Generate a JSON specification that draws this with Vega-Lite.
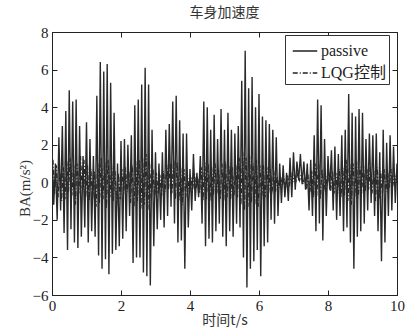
{
"$schema": "https://vega.github.io/schema/vega-lite/v6.json",
"width": 345, "height": 263,
"autosize": {"type": "none"},
"padding": {"left": 52, "top": 32, "right": 12, "bottom": 35},
"background": "white",
"config": {"view": {"stroke": "#222", "strokeWidth": 1}, "font": "Liberation Serif"},
"title": {"text": "车身加速度", "font": "Noto Sans CJK SC", "fontSize": 14, "fontWeight": "normal", "color": "#333", "offset": 5, "anchor": "middle"},
"data": {"values": [
{"t":0.00,"a":1.8,"s":"passive"},{"t":0.05,"a":-1.2,"s":"passive"},{"t":0.10,"a":1.0,"s":"passive"},{"t":0.15,"a":-2.0,"s":"passive"},{"t":0.20,"a":2.4,"s":"passive"},{"t":0.25,"a":-1.5,"s":"passive"},{"t":0.30,"a":3.0,"s":"passive"},{"t":0.35,"a":-2.7,"s":"passive"},{"t":0.40,"a":3.8,"s":"passive"},{"t":0.45,"a":-3.6,"s":"passive"},
{"t":0.50,"a":4.9,"s":"passive"},{"t":0.55,"a":-2.5,"s":"passive"},{"t":0.60,"a":4.3,"s":"passive"},{"t":0.65,"a":-3.2,"s":"passive"},{"t":0.70,"a":4.4,"s":"passive"},{"t":0.75,"a":-3.5,"s":"passive"},{"t":0.80,"a":3.0,"s":"passive"},{"t":0.85,"a":-2.9,"s":"passive"},{"t":0.90,"a":1.4,"s":"passive"},{"t":0.95,"a":-2.4,"s":"passive"},
{"t":1.00,"a":3.2,"s":"passive"},{"t":1.05,"a":-3.2,"s":"passive"},{"t":1.10,"a":2.3,"s":"passive"},{"t":1.15,"a":-2.6,"s":"passive"},{"t":1.20,"a":1.4,"s":"passive"},{"t":1.25,"a":-2.9,"s":"passive"},{"t":1.30,"a":4.6,"s":"passive"},{"t":1.35,"a":-3.9,"s":"passive"},{"t":1.40,"a":6.4,"s":"passive"},{"t":1.45,"a":-4.6,"s":"passive"},
{"t":1.50,"a":5.9,"s":"passive"},{"t":1.55,"a":-4.1,"s":"passive"},{"t":1.60,"a":6.3,"s":"passive"},{"t":1.65,"a":-4.9,"s":"passive"},{"t":1.70,"a":5.3,"s":"passive"},{"t":1.75,"a":-3.8,"s":"passive"},{"t":1.80,"a":3.7,"s":"passive"},{"t":1.85,"a":-3.6,"s":"passive"},{"t":1.90,"a":1.0,"s":"passive"},{"t":1.95,"a":-3.4,"s":"passive"},
{"t":2.00,"a":2.2,"s":"passive"},{"t":2.05,"a":-3.0,"s":"passive"},{"t":2.10,"a":2.3,"s":"passive"},{"t":2.15,"a":-2.6,"s":"passive"},{"t":2.20,"a":2.0,"s":"passive"},{"t":2.25,"a":-1.8,"s":"passive"},{"t":2.30,"a":2.5,"s":"passive"},{"t":2.35,"a":-4.3,"s":"passive"},{"t":2.40,"a":4.1,"s":"passive"},{"t":2.45,"a":-4.0,"s":"passive"},
{"t":2.50,"a":4.4,"s":"passive"},{"t":2.55,"a":-4.0,"s":"passive"},{"t":2.60,"a":5.2,"s":"passive"},{"t":2.65,"a":-4.8,"s":"passive"},{"t":2.70,"a":6.1,"s":"passive"},{"t":2.75,"a":-5.0,"s":"passive"},{"t":2.80,"a":5.2,"s":"passive"},{"t":2.85,"a":-5.5,"s":"passive"},{"t":2.90,"a":2.8,"s":"passive"},{"t":2.95,"a":-3.4,"s":"passive"},
{"t":3.00,"a":1.6,"s":"passive"},{"t":3.05,"a":-2.5,"s":"passive"},{"t":3.10,"a":1.0,"s":"passive"},{"t":3.15,"a":-2.0,"s":"passive"},{"t":3.20,"a":1.6,"s":"passive"},{"t":3.25,"a":-2.4,"s":"passive"},{"t":3.30,"a":2.8,"s":"passive"},{"t":3.35,"a":-1.8,"s":"passive"},{"t":3.40,"a":3.1,"s":"passive"},{"t":3.45,"a":-1.3,"s":"passive"},
{"t":3.50,"a":4.3,"s":"passive"},{"t":3.55,"a":-2.2,"s":"passive"},{"t":3.60,"a":4.6,"s":"passive"},{"t":3.65,"a":-3.2,"s":"passive"},{"t":3.70,"a":3.3,"s":"passive"},{"t":3.75,"a":-3.1,"s":"passive"},{"t":3.80,"a":2.6,"s":"passive"},{"t":3.85,"a":-4.6,"s":"passive"},{"t":3.90,"a":2.6,"s":"passive"},{"t":3.95,"a":-2.4,"s":"passive"},
{"t":4.00,"a":0.7,"s":"passive"},{"t":4.05,"a":-1.5,"s":"passive"},{"t":4.10,"a":1.5,"s":"passive"},{"t":4.15,"a":-1.0,"s":"passive"},{"t":4.20,"a":0.5,"s":"passive"},{"t":4.25,"a":-0.8,"s":"passive"},{"t":4.30,"a":1.4,"s":"passive"},{"t":4.35,"a":-2.2,"s":"passive"},{"t":4.40,"a":4.3,"s":"passive"},{"t":4.45,"a":-3.4,"s":"passive"},
{"t":4.50,"a":4.0,"s":"passive"},{"t":4.55,"a":-3.0,"s":"passive"},{"t":4.60,"a":2.8,"s":"passive"},{"t":4.65,"a":-3.2,"s":"passive"},{"t":4.70,"a":3.6,"s":"passive"},{"t":4.75,"a":-2.6,"s":"passive"},{"t":4.80,"a":2.3,"s":"passive"},{"t":4.85,"a":-2.2,"s":"passive"},{"t":4.90,"a":3.9,"s":"passive"},{"t":4.95,"a":-2.9,"s":"passive"},
{"t":5.00,"a":2.8,"s":"passive"},{"t":5.05,"a":-3.4,"s":"passive"},{"t":5.10,"a":3.7,"s":"passive"},{"t":5.15,"a":-2.6,"s":"passive"},{"t":5.20,"a":2.8,"s":"passive"},{"t":5.25,"a":-2.9,"s":"passive"},{"t":5.30,"a":2.6,"s":"passive"},{"t":5.35,"a":-2.2,"s":"passive"},{"t":5.40,"a":3.0,"s":"passive"},{"t":5.45,"a":-2.4,"s":"passive"},
{"t":5.50,"a":5.4,"s":"passive"},{"t":5.55,"a":-4.0,"s":"passive"},{"t":5.60,"a":7.0,"s":"passive"},{"t":5.65,"a":-5.6,"s":"passive"},{"t":5.70,"a":5.0,"s":"passive"},{"t":5.75,"a":-4.6,"s":"passive"},{"t":5.80,"a":5.6,"s":"passive"},{"t":5.85,"a":-4.2,"s":"passive"},{"t":5.90,"a":4.0,"s":"passive"},{"t":5.95,"a":-3.6,"s":"passive"},
{"t":6.00,"a":4.7,"s":"passive"},{"t":6.05,"a":-5.0,"s":"passive"},{"t":6.10,"a":3.5,"s":"passive"},{"t":6.15,"a":-3.4,"s":"passive"},{"t":6.20,"a":3.3,"s":"passive"},{"t":6.25,"a":-3.2,"s":"passive"},{"t":6.30,"a":3.1,"s":"passive"},{"t":6.35,"a":-2.0,"s":"passive"},{"t":6.40,"a":2.8,"s":"passive"},{"t":6.45,"a":-2.2,"s":"passive"},
{"t":6.50,"a":2.4,"s":"passive"},{"t":6.55,"a":-1.8,"s":"passive"},{"t":6.60,"a":1.0,"s":"passive"},{"t":6.65,"a":-1.1,"s":"passive"},{"t":6.70,"a":0.9,"s":"passive"},{"t":6.75,"a":-0.8,"s":"passive"},{"t":6.80,"a":0.5,"s":"passive"},{"t":6.85,"a":-1.0,"s":"passive"},{"t":6.90,"a":1.3,"s":"passive"},{"t":6.95,"a":-0.8,"s":"passive"},
{"t":7.00,"a":1.6,"s":"passive"},{"t":7.05,"a":-0.4,"s":"passive"},{"t":7.10,"a":1.1,"s":"passive"},{"t":7.15,"a":0.1,"s":"passive"},{"t":7.20,"a":1.5,"s":"passive"},{"t":7.25,"a":-0.1,"s":"passive"},{"t":7.30,"a":1.1,"s":"passive"},{"t":7.35,"a":-0.4,"s":"passive"},{"t":7.40,"a":1.0,"s":"passive"},{"t":7.45,"a":-1.5,"s":"passive"},
{"t":7.50,"a":1.2,"s":"passive"},{"t":7.55,"a":-1.8,"s":"passive"},{"t":7.60,"a":2.5,"s":"passive"},{"t":7.65,"a":-2.6,"s":"passive"},{"t":7.70,"a":4.4,"s":"passive"},{"t":7.75,"a":-2.2,"s":"passive"},{"t":7.80,"a":4.1,"s":"passive"},{"t":7.85,"a":-3.1,"s":"passive"},{"t":7.90,"a":2.3,"s":"passive"},{"t":7.95,"a":-1.8,"s":"passive"},
{"t":8.00,"a":1.4,"s":"passive"},{"t":8.05,"a":-0.4,"s":"passive"},{"t":8.10,"a":1.7,"s":"passive"},{"t":8.15,"a":-1.5,"s":"passive"},{"t":8.20,"a":1.9,"s":"passive"},{"t":8.25,"a":-2.0,"s":"passive"},{"t":8.30,"a":1.5,"s":"passive"},{"t":8.35,"a":-1.8,"s":"passive"},{"t":8.40,"a":2.5,"s":"passive"},{"t":8.45,"a":-2.6,"s":"passive"},
{"t":8.50,"a":2.8,"s":"passive"},{"t":8.55,"a":-2.4,"s":"passive"},{"t":8.60,"a":4.7,"s":"passive"},{"t":8.65,"a":-3.2,"s":"passive"},{"t":8.70,"a":3.7,"s":"passive"},{"t":8.75,"a":-4.6,"s":"passive"},{"t":8.80,"a":3.5,"s":"passive"},{"t":8.85,"a":-2.9,"s":"passive"},{"t":8.90,"a":3.9,"s":"passive"},{"t":8.95,"a":-2.6,"s":"passive"},
{"t":9.00,"a":3.7,"s":"passive"},{"t":9.05,"a":-2.2,"s":"passive"},{"t":9.10,"a":2.3,"s":"passive"},{"t":9.15,"a":-1.5,"s":"passive"},{"t":9.20,"a":2.6,"s":"passive"},{"t":9.25,"a":-1.1,"s":"passive"},{"t":9.30,"a":2.5,"s":"passive"},{"t":9.35,"a":-1.8,"s":"passive"},{"t":9.40,"a":2.6,"s":"passive"},{"t":9.45,"a":-2.6,"s":"passive"},
{"t":9.50,"a":1.6,"s":"passive"},{"t":9.55,"a":-4.2,"s":"passive"},{"t":9.60,"a":2.8,"s":"passive"},{"t":9.65,"a":-3.2,"s":"passive"},{"t":9.70,"a":2.1,"s":"passive"},{"t":9.75,"a":-1.8,"s":"passive"},{"t":9.80,"a":2.5,"s":"passive"},{"t":9.85,"a":-1.5,"s":"passive"},{"t":9.90,"a":1.9,"s":"passive"},{"t":9.95,"a":-1.1,"s":"passive"},
{"t":10.00,"a":1.0,"s":"passive"},
{"t":0.025,"a":1.2,"s":"LQG控制"},{"t":0.075,"a":-0.6,"s":"LQG控制"},{"t":0.125,"a":0.9,"s":"LQG控制"},{"t":0.175,"a":-0.8,"s":"LQG控制"},{"t":0.225,"a":0.5,"s":"LQG控制"},{"t":0.275,"a":-1.0,"s":"LQG控制"},{"t":0.325,"a":0.8,"s":"LQG控制"},{"t":0.375,"a":-0.9,"s":"LQG控制"},{"t":0.425,"a":1.1,"s":"LQG控制"},{"t":0.475,"a":-0.5,"s":"LQG控制"},
{"t":0.525,"a":1.3,"s":"LQG控制"},{"t":0.575,"a":-0.7,"s":"LQG控制"},{"t":0.625,"a":0.9,"s":"LQG控制"},{"t":0.675,"a":-1.2,"s":"LQG控制"},{"t":0.725,"a":1.0,"s":"LQG控制"},{"t":0.775,"a":-0.6,"s":"LQG控制"},{"t":0.825,"a":1.4,"s":"LQG控制"},{"t":0.875,"a":-0.3,"s":"LQG控制"},{"t":0.925,"a":1.2,"s":"LQG控制"},{"t":0.975,"a":-0.8,"s":"LQG控制"},
{"t":1.025,"a":0.9,"s":"LQG控制"},{"t":1.075,"a":-1.0,"s":"LQG控制"},{"t":1.125,"a":0.7,"s":"LQG控制"},{"t":1.175,"a":-0.9,"s":"LQG控制"},{"t":1.225,"a":0.6,"s":"LQG控制"},{"t":1.275,"a":-1.3,"s":"LQG控制"},{"t":1.325,"a":1.0,"s":"LQG控制"},{"t":1.375,"a":-1.1,"s":"LQG控制"},{"t":1.425,"a":1.3,"s":"LQG控制"},{"t":1.475,"a":-0.9,"s":"LQG控制"},
{"t":1.525,"a":1.1,"s":"LQG控制"},{"t":1.575,"a":-1.4,"s":"LQG控制"},{"t":1.625,"a":1.2,"s":"LQG控制"},{"t":1.675,"a":-0.8,"s":"LQG控制"},{"t":1.725,"a":0.9,"s":"LQG控制"},{"t":1.775,"a":-1.0,"s":"LQG控制"},{"t":1.825,"a":0.6,"s":"LQG控制"},{"t":1.875,"a":-1.2,"s":"LQG控制"},{"t":1.925,"a":0.5,"s":"LQG控制"},{"t":1.975,"a":-0.9,"s":"LQG控制"},
{"t":2.025,"a":0.7,"s":"LQG控制"},{"t":2.075,"a":-0.6,"s":"LQG控制"},{"t":2.125,"a":0.8,"s":"LQG控制"},{"t":2.175,"a":-0.5,"s":"LQG控制"},{"t":2.225,"a":0.6,"s":"LQG控制"},{"t":2.275,"a":-1.1,"s":"LQG控制"},{"t":2.325,"a":0.9,"s":"LQG控制"},{"t":2.375,"a":-1.3,"s":"LQG控制"},{"t":2.425,"a":1.1,"s":"LQG控制"},{"t":2.475,"a":-1.0,"s":"LQG控制"},
{"t":2.525,"a":1.2,"s":"LQG控制"},{"t":2.575,"a":-1.4,"s":"LQG控制"},{"t":2.625,"a":1.3,"s":"LQG控制"},{"t":2.675,"a":-1.2,"s":"LQG控制"},{"t":2.725,"a":1.5,"s":"LQG控制"},{"t":2.775,"a":-1.5,"s":"LQG控制"},{"t":2.825,"a":1.1,"s":"LQG控制"},{"t":2.875,"a":-1.0,"s":"LQG控制"},{"t":2.925,"a":0.7,"s":"LQG控制"},{"t":2.975,"a":-0.8,"s":"LQG控制"},
{"t":3.025,"a":0.5,"s":"LQG控制"},{"t":3.075,"a":-0.6,"s":"LQG控制"},{"t":3.125,"a":0.4,"s":"LQG控制"},{"t":3.175,"a":-0.7,"s":"LQG控制"},{"t":3.225,"a":0.6,"s":"LQG控制"},{"t":3.275,"a":-0.5,"s":"LQG控制"},{"t":3.325,"a":0.9,"s":"LQG控制"},{"t":3.375,"a":-0.4,"s":"LQG控制"},{"t":3.425,"a":1.0,"s":"LQG控制"},{"t":3.475,"a":-0.6,"s":"LQG控制"},
{"t":3.525,"a":1.2,"s":"LQG控制"},{"t":3.575,"a":-0.9,"s":"LQG控制"},{"t":3.625,"a":1.1,"s":"LQG控制"},{"t":3.675,"a":-1.0,"s":"LQG控制"},{"t":3.725,"a":0.8,"s":"LQG控制"},{"t":3.775,"a":-1.2,"s":"LQG控制"},{"t":3.825,"a":0.7,"s":"LQG控制"},{"t":3.875,"a":-0.8,"s":"LQG控制"},{"t":3.925,"a":0.4,"s":"LQG控制"},{"t":3.975,"a":-0.5,"s":"LQG控制"},
{"t":4.025,"a":0.3,"s":"LQG控制"},{"t":4.075,"a":-0.4,"s":"LQG控制"},{"t":4.125,"a":0.5,"s":"LQG控制"},{"t":4.175,"a":-0.3,"s":"LQG控制"},{"t":4.225,"a":0.2,"s":"LQG控制"},{"t":4.275,"a":-0.6,"s":"LQG控制"},{"t":4.325,"a":0.8,"s":"LQG控制"},{"t":4.375,"a":-1.0,"s":"LQG控制"},{"t":4.425,"a":1.1,"s":"LQG控制"},{"t":4.475,"a":-0.9,"s":"LQG控制"},
{"t":4.525,"a":1.0,"s":"LQG控制"},{"t":4.575,"a":-1.0,"s":"LQG控制"},{"t":4.625,"a":0.8,"s":"LQG控制"},{"t":4.675,"a":-0.7,"s":"LQG控制"},{"t":4.725,"a":1.0,"s":"LQG控制"},{"t":4.775,"a":-0.6,"s":"LQG控制"},{"t":4.825,"a":0.7,"s":"LQG控制"},{"t":4.875,"a":-0.9,"s":"LQG控制"},{"t":4.925,"a":1.0,"s":"LQG控制"},{"t":4.975,"a":-1.0,"s":"LQG控制"},
{"t":5.025,"a":1.1,"s":"LQG控制"},{"t":5.075,"a":-0.8,"s":"LQG控制"},{"t":5.125,"a":0.9,"s":"LQG控制"},{"t":5.175,"a":-0.9,"s":"LQG控制"},{"t":5.225,"a":0.8,"s":"LQG控制"},{"t":5.275,"a":-0.7,"s":"LQG控制"},{"t":5.325,"a":0.9,"s":"LQG控制"},{"t":5.375,"a":-0.8,"s":"LQG控制"},{"t":5.425,"a":1.3,"s":"LQG控制"},{"t":5.475,"a":-1.2,"s":"LQG控制"},
{"t":5.525,"a":1.6,"s":"LQG控制"},{"t":5.575,"a":-1.5,"s":"LQG控制"},{"t":5.625,"a":1.3,"s":"LQG控制"},{"t":5.675,"a":-1.3,"s":"LQG控制"},{"t":5.725,"a":1.4,"s":"LQG控制"},{"t":5.775,"a":-1.1,"s":"LQG控制"},{"t":5.825,"a":1.0,"s":"LQG控制"},{"t":5.875,"a":-1.2,"s":"LQG控制"},{"t":5.925,"a":1.2,"s":"LQG控制"},{"t":5.975,"a":-1.3,"s":"LQG控制"},
{"t":6.025,"a":0.9,"s":"LQG控制"},{"t":6.075,"a":-0.9,"s":"LQG控制"},{"t":6.125,"a":0.9,"s":"LQG控制"},{"t":6.175,"a":-0.8,"s":"LQG控制"},{"t":6.225,"a":0.8,"s":"LQG控制"},{"t":6.275,"a":-0.6,"s":"LQG控制"},{"t":6.325,"a":0.7,"s":"LQG控制"},{"t":6.375,"a":-0.6,"s":"LQG控制"},{"t":6.425,"a":0.6,"s":"LQG控制"},{"t":6.475,"a":-0.5,"s":"LQG控制"},
{"t":6.525,"a":0.3,"s":"LQG控制"},{"t":6.575,"a":-0.3,"s":"LQG控制"},{"t":6.625,"a":0.3,"s":"LQG控制"},{"t":6.675,"a":-0.2,"s":"LQG控制"},{"t":6.725,"a":0.2,"s":"LQG控制"},{"t":6.775,"a":-0.3,"s":"LQG控制"},{"t":6.825,"a":0.4,"s":"LQG控制"},{"t":6.875,"a":-0.2,"s":"LQG控制"},{"t":6.925,"a":0.5,"s":"LQG控制"},{"t":6.975,"a":0.0,"s":"LQG控制"},
{"t":7.025,"a":0.4,"s":"LQG控制"},{"t":7.075,"a":0.1,"s":"LQG控制"},{"t":7.125,"a":0.5,"s":"LQG控制"},{"t":7.175,"a":0.1,"s":"LQG控制"},{"t":7.225,"a":0.4,"s":"LQG控制"},{"t":7.275,"a":-0.1,"s":"LQG控制"},{"t":7.325,"a":0.3,"s":"LQG控制"},{"t":7.375,"a":-0.4,"s":"LQG控制"},{"t":7.425,"a":0.4,"s":"LQG控制"},{"t":7.475,"a":-0.5,"s":"LQG控制"},
{"t":7.525,"a":0.6,"s":"LQG控制"},{"t":7.575,"a":-0.8,"s":"LQG控制"},{"t":7.625,"a":1.0,"s":"LQG控制"},{"t":7.675,"a":-0.7,"s":"LQG控制"},{"t":7.725,"a":1.1,"s":"LQG控制"},{"t":7.775,"a":-0.9,"s":"LQG控制"},{"t":7.825,"a":0.7,"s":"LQG控制"},{"t":7.875,"a":-0.5,"s":"LQG控制"},{"t":7.925,"a":0.4,"s":"LQG控制"},{"t":7.975,"a":-0.2,"s":"LQG控制"},
{"t":8.025,"a":0.5,"s":"LQG控制"},{"t":8.075,"a":-0.5,"s":"LQG控制"},{"t":8.125,"a":0.6,"s":"LQG控制"},{"t":8.175,"a":-0.6,"s":"LQG控制"},{"t":8.225,"a":0.5,"s":"LQG控制"},{"t":8.275,"a":-0.6,"s":"LQG控制"},{"t":8.325,"a":0.7,"s":"LQG控制"},{"t":8.375,"a":-0.8,"s":"LQG控制"},{"t":8.425,"a":0.8,"s":"LQG控制"},{"t":8.475,"a":-0.7,"s":"LQG控制"},
{"t":8.525,"a":1.2,"s":"LQG控制"},{"t":8.575,"a":-1.0,"s":"LQG控制"},{"t":8.625,"a":1.0,"s":"LQG控制"},{"t":8.675,"a":-1.2,"s":"LQG控制"},{"t":8.725,"a":1.0,"s":"LQG控制"},{"t":8.775,"a":-0.8,"s":"LQG控制"},{"t":8.825,"a":1.1,"s":"LQG控制"},{"t":8.875,"a":-0.8,"s":"LQG控制"},{"t":8.925,"a":0.8,"s":"LQG控制"},{"t":8.975,"a":-0.6,"s":"LQG控制"},
{"t":9.025,"a":0.9,"s":"LQG控制"},{"t":9.075,"a":-0.5,"s":"LQG控制"},{"t":9.125,"a":0.7,"s":"LQG控制"},{"t":9.175,"a":-0.4,"s":"LQG控制"},{"t":9.225,"a":0.8,"s":"LQG控制"},{"t":9.275,"a":-0.6,"s":"LQG控制"},{"t":9.325,"a":0.6,"s":"LQG控制"},{"t":9.375,"a":-1.0,"s":"LQG控制"},{"t":9.425,"a":0.8,"s":"LQG控制"},{"t":9.475,"a":-0.9,"s":"LQG控制"},
{"t":9.525,"a":0.6,"s":"LQG控制"},{"t":9.575,"a":-0.6,"s":"LQG控制"},{"t":9.625,"a":0.7,"s":"LQG控制"},{"t":9.675,"a":-0.5,"s":"LQG控制"},{"t":9.725,"a":0.6,"s":"LQG控制"},{"t":9.775,"a":-0.3,"s":"LQG控制"},{"t":9.825,"a":0.7,"s":"LQG控制"},{"t":9.875,"a":-0.2,"s":"LQG控制"},{"t":9.925,"a":0.5,"s":"LQG控制"},{"t":9.975,"a":0.1,"s":"LQG控制"}
]},
"layer": [
{"mark": {"type": "line", "strokeWidth": 1.4, "color": "#2a2a2a", "clip": true},
 "encoding": {
  "x": {"field": "t", "type": "quantitative", "scale": {"domain": [0, 10], "nice": false},
        "axis": {"values": [0,2,4,6,8,10], "title": "时间t/s", "titleFont": "Noto Sans CJK SC", "titleFontSize": 14, "titleFontWeight": "normal", "titleColor": "#333", "titlePadding": 0,
                 "labelFont": "Liberation Serif", "labelFontSize": 15, "labelColor": "#222", "labelPadding": 8, "tickSize": -5, "tickColor": "#222", "domainColor": "#222", "grid": false, "labelFlush": false}},
  "y": {"field": "a", "type": "quantitative", "scale": {"domain": [-6, 8], "nice": false},
        "axis": {"values": [-6,-4,-2,0,2,4,6,8], "title": "BA(m/s²)", "titleFont": "Liberation Serif", "titleFontSize": 15, "titleFontWeight": "normal", "titleColor": "#333", "titleX": -20, "titleY": 156, "titleAngle": 270, "titleAlign": "center", "titleBaseline": "bottom",
                 "labelFont": "Liberation Serif", "labelFontSize": 15, "labelColor": "#222", "labelPadding": 9, "tickSize": -5, "tickColor": "#222", "domainColor": "#222", "grid": false, "labelFlush": false}},
  "strokeDash": {"field": "s", "type": "nominal", "scale": {"domain": ["passive", "LQG控制"], "range": [[1, 0], [5, 2, 1, 2]]},
        "legend": {"orient": "none", "legendX": 233, "legendY": 3, "title": null, "fillColor": "white", "strokeColor": "#333", "padding": 3, "symbolType": "stroke", "symbolSize": 600, "symbolStrokeWidth": 1.3, "symbolStrokeColor": "#222", "symbolOffset": 4, "labelFont": "Liberation Serif, Noto Sans CJK SC", "labelFontSize": 16, "labelColor": "#222", "labelOffset": 3, "rowPadding": 1}}
 }},
{"mark": {"type": "point", "opacity": 0},
 "encoding": {
  "x": {"field": "t", "type": "quantitative", "axis": {"orient": "top", "values": [0,2,4,6,8,10], "labels": false, "title": null, "tickSize": -5, "tickColor": "#222", "domain": false, "grid": false}},
  "y": {"field": "a", "type": "quantitative", "axis": {"orient": "right", "values": [-6,-4,-2,0,2,4,6,8], "labels": false, "title": null, "tickSize": -5, "tickColor": "#222", "domain": false, "grid": false}}
 }}
],
"resolve": {"axis": {"x": "independent", "y": "independent"}}
}
